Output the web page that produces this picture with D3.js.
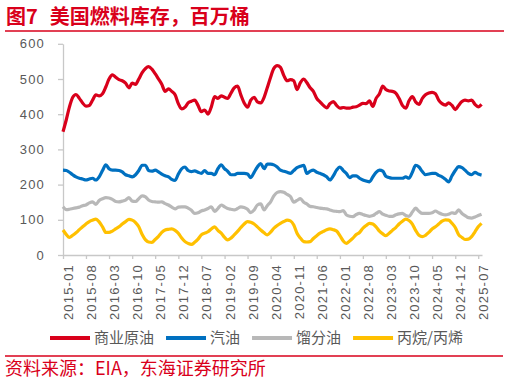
<!DOCTYPE html>
<html>
<head>
<meta charset="utf-8">
<script src="https://cdn.jsdelivr.net/npm/d3@7"></script>
<style>
body { margin: 0; background: #fff; }
svg { display: block; }
</style>
</head>
<body>
<div id="chart"></div>
<script>
// monthly readings, first month = 2015-01
var startMonth = new Date(2015, 0, 1);

var crude = [350,385,420,448,456,445,432,423,425,440,455,452,458,478,500,512,505,498,495,488,
    475,488,485,500,518,530,535,528,515,500,485,465,472,465,455,430,415,420,432,437,
    440,425,407,412,400,420,450,445,452,448,445,460,475,480,455,432,420,440,448,435,
    432,448,475,505,530,538,533,510,495,498,495,470,490,500,490,475,465,445,435,425,
    418,430,436,425,417,419,417,417,420,421,426,431,430,438,422,445,458,480,470,466,
    465,460,445,425,417,438,450,435,428,445,455,460,462,458,440,430,426,432,425,413,
    425,436,440,438,440,428,421,428];

var gasoline = [241,240,235,228,222,218,216,213,216,218,213,222,240,256,245,241,241,240,236,228,
    225,222,228,240,255,255,240,238,241,236,230,225,222,215,212,230,245,250,240,237,
    239,235,232,240,232,232,228,245,256,245,238,228,228,232,232,232,230,220,235,250,
    260,245,258,258,256,250,241,238,235,232,240,248,252,255,232,238,241,235,232,228,
    222,213,225,241,250,240,232,220,225,225,218,213,210,208,222,235,241,238,224,220,
    218,218,218,218,222,218,235,255,250,237,228,230,232,232,226,222,215,208,225,240,
    251,248,241,232,228,235,230,227];

var distillate = [137,129,130,132,134,136,140,142,148,151,144,155,160,163,162,158,152,151,153,156,
    163,153,152,160,168,165,156,152,151,150,151,146,142,136,131,136,137,137,133,127,
    118,120,125,128,132,137,124,132,142,137,132,130,128,132,137,135,130,120,128,142,
    145,128,140,151,168,178,180,178,172,166,150,155,160,150,145,138,137,135,133,132,
    131,128,125,124,123,126,114,110,109,115,118,115,112,110,112,118,123,116,113,110,
    110,114,117,118,112,110,122,133,124,118,118,118,120,125,120,116,114,116,120,118,
    128,118,112,106,105,108,112,116];

var propane = [71,58,50,56,63,72,80,88,95,99,102,94,80,64,64,68,74,80,88,95,
    101,99,92,80,58,43,37,36,44,53,64,71,73,74,70,62,48,38,33,30,
    36,45,57,62,66,74,80,70,62,50,43,48,57,67,78,88,95,93,88,80,
    71,63,57,65,76,84,90,95,99,97,85,62,48,38,37,38,47,55,62,67,
    72,74,72,68,55,40,33,40,48,58,64,76,84,90,88,80,68,60,55,62,
    70,78,88,96,102,98,88,70,56,52,56,64,74,80,88,96,100,99,90,78,
    58,50,44,45,52,66,80,90];

var seriesNames = ["商业原油", "汽油", "馏分油", "丙烷/丙烯"];
var yTicks = [0, 100, 200, 300, 400, 500, 600];
var tickLabels = ["2015-01","2015-08","2016-03","2016-10","2017-05","2017-12","2018-07",
    "2019-02","2019-09","2020-04","2020-11","2021-06","2022-01","2022-08","2023-03",
    "2023-10","2024-05","2024-12","2025-07"];

var colors = ["#d9001b", "#0070c0", "#b8b8b8", "#ffc000"];
var red = "#d9001b";
var textGray = "#595959";
var axisGray = "#c8c8c8";

var W = 509, H = 384;
var svg = d3.select("#chart").append("svg").attr("width", W).attr("height", H);

// title + rule
var title = svg.append("text")
    .attr("x", 6).attr("y", 23.5)
    .style("font-family", "'Noto Sans CJK SC', sans-serif")
    .style("font-size", "20px").style("font-weight", "bold")
    .style("fill", red);
title.append("tspan").text("图7");
title.append("tspan").attr("dx", 12).text("美国燃料库存，百万桶");

svg.append("line").attr("x1", 5).attr("x2", 504).attr("y1", 31).attr("y2", 31)
    .style("stroke", red).style("stroke-width", 1.6);

var parseMonth = d3.timeParse("%Y-%m");
var x = d3.scaleTime()
    .domain([startMonth, new Date(2025, 7, 5)])
    .range([63, 482]);
var y = d3.scaleLinear().domain([0, 600]).range([255, 43.8]);

var months = crude.map(function(d, i) { return d3.timeMonth.offset(startMonth, i); });
var allSeries = [crude, gasoline, distillate, propane];

// y axis
var yAxis = svg.append("g").attr("transform", "translate(63,0)")
    .call(d3.axisLeft(y).tickValues(yTicks).tickSize(5).tickSizeOuter(0).tickPadding(13));
yAxis.selectAll("text")
    .style("font-family", "'Liberation Sans', Arial, sans-serif")
    .style("font-size", "13px").style("letter-spacing", "1.2px")
    .style("fill", textGray);

// x axis
var xAxis = svg.append("g").attr("transform", "translate(0,255)")
    .call(d3.axisBottom(x).tickValues(tickLabels.map(parseMonth))
        .tickFormat(d3.timeFormat("%Y-%m")).tickSize(4).tickSizeOuter(0));
xAxis.selectAll("text")
    .attr("transform", "rotate(-90)")
    .attr("x", -9).attr("y", 5).attr("dy", "0.35em")
    .style("text-anchor", "end")
    .style("font-family", "'Liberation Sans', Arial, sans-serif")
    .style("font-size", "13px").style("letter-spacing", "1.2px")
    .style("fill", textGray);

svg.selectAll(".domain, .tick line").style("stroke", axisGray).style("stroke-width", 1.3);

// series lines
var line = d3.line()
    .x(function(d, i) { return x(months[i]); })
    .y(function(d) { return y(d); })
    .curve(d3.curveMonotoneX);

svg.append("g").selectAll("path")
    .data(allSeries)
    .enter().append("path")
    .attr("d", line)
    .style("fill", "none")
    .style("stroke", function(d, i) { return colors[i]; })
    .style("stroke-width", 3.2)
    .style("stroke-linejoin", "round");

// legend
var lx = 50, ly = 338;
var legend = svg.append("g");
seriesNames.forEach(function(name, i) {
    legend.append("line")
        .attr("x1", lx).attr("x2", lx + 40).attr("y1", ly).attr("y2", ly)
        .style("stroke", colors[i]).style("stroke-width", 4);
    var t = legend.append("text")
        .attr("x", lx + 44).attr("y", ly).attr("dy", "0.36em")
        .style("font-family", "'Noto Sans CJK SC', sans-serif")
        .style("font-size", "15px").style("fill", textGray)
        .text(name);
    lx += 44 + t.node().getComputedTextLength() + 12;
});

// source
svg.append("line").attr("x1", 5).attr("x2", 503).attr("y1", 356).attr("y2", 356)
    .style("stroke", red).style("stroke-width", 1.6);
svg.append("text")
    .attr("x", 5).attr("y", 375)
    .style("font-family", "'Noto Sans CJK SC', sans-serif")
    .style("font-size", "18px").style("fill", red)
    .text("资料来源：EIA，东海证券研究所");
</script>
</body>
</html>
